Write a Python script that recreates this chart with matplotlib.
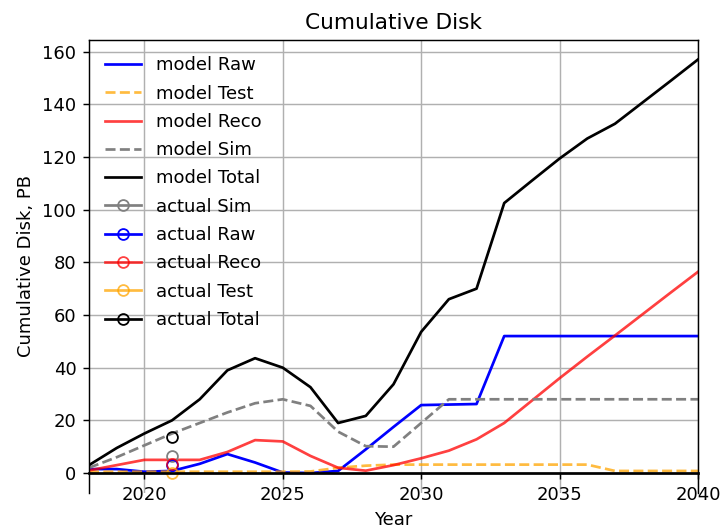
import matplotlib
matplotlib.use('Agg')
import matplotlib.pyplot as plt

# años del modelo
anios = list(range(2018, 2041))

model_raw = [1.5, 1.5, 0.5, 0.8, 3.5, 7.2, 4.0, 0.2, 0.0, 0.8, 9.0, 17.5, 25.8,
             26.0, 26.2, 52.0, 52.0, 52.0, 52.0, 52.0, 52.0, 52.0, 52.0]
model_test = [0.5, 0.5, 0.5, 0.5, 0.5, 0.5, 0.5, 0.5, 0.6, 2.0, 2.8, 3.2, 3.2,
              3.2, 3.2, 3.2, 3.2, 3.2, 3.2, 0.8, 0.8, 0.8, 0.8]
model_reco = [1.0, 3.0, 5.0, 5.0, 5.0, 8.0, 12.5, 12.0, 6.5, 2.0, 0.9, 3.0, 5.6,
              8.5, 12.8, 19.0, 27.5, 36.0, 44.2, 52.2, 60.3, 68.4, 76.4]
model_sim = [2.0, 6.0, 10.5, 15.0, 19.0, 23.0, 26.5, 28.0, 25.5, 15.7, 10.2, 10.0, 19.0,
             28.0, 28.0, 28.0, 28.0, 28.0, 28.0, 28.0, 28.0, 28.0, 28.0]
model_total = [3.0, 9.5, 15.0, 20.0, 28.0, 39.0, 43.6, 40.0, 32.6, 19.0, 21.7, 33.7, 53.6,
               66.0, 70.0, 102.5, 111.0, 119.4, 127.0, 132.6, 140.7, 148.8, 157.0]

# valores reales (solo 2021)
anios_actual = [2021]
actual_sim = [6.5]
actual_raw = [3.0]
actual_reco = [3.5]
actual_test = [0.0]
actual_total = [13.5]

fig = plt.figure(figsize=(724/130, 527/130), dpi=130)
ax = fig.add_axes([0.1229, 0.0649, 0.8412, 0.8592])

ax.plot(anios, model_raw, color='blue', label='model Raw')
ax.plot(anios, model_test, color='orange', alpha=0.75, linestyle='--', label='model Test')
ax.plot(anios, model_reco, color='red', alpha=0.75, label='model Reco')
ax.plot(anios, model_sim, color='gray', linestyle='--', label='model Sim')
ax.plot(anios, model_total, color='black', label='model Total')

ax.plot(anios_actual, actual_sim, color='gray', marker='o', fillstyle='none', label='actual Sim')
ax.plot(anios_actual, actual_raw, color='blue', marker='o', fillstyle='none', label='actual Raw')
ax.plot(anios_actual, actual_reco, color='red', alpha=0.75, marker='o', fillstyle='none', label='actual Reco')
ax.plot(anios_actual, actual_test, color='orange', alpha=0.75, marker='o', fillstyle='none', label='actual Test')
ax.plot(anios_actual, actual_total, color='black', marker='o', fillstyle='none', label='actual Total')

ax.set_xlim(2018, 2040)
ax.set_ylim(-7.5, 164.4)
ax.spines['bottom'].set_position('zero')
ax.spines['bottom'].set_linewidth(1.5)
ax.set_xticks([2020, 2025, 2030, 2035, 2040])
ax.set_yticks(range(0, 161, 20))
ax.grid(True)

ax.set_xlabel('Year')
ax.set_ylabel('Cumulative Disk, PB')
ax.set_title('Cumulative Disk')
ax.legend(loc='upper left', frameon=False, labelspacing=0.57)

plt.savefig('out.png', dpi=130)
